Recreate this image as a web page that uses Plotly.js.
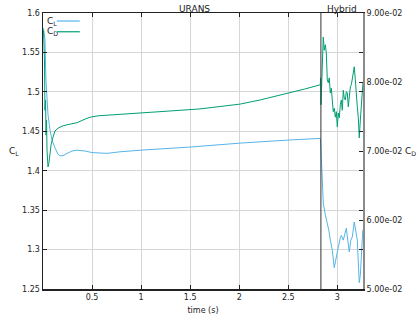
<!DOCTYPE html>
<html><head><meta charset="utf-8">
<script src="https://cdn.plot.ly/plotly-3.0.1.min.js"></script>
<style>html,body{margin:0;padding:0;background:#fff}#chart{width:419px;height:322px}</style>
</head><body><div id="chart"></div>
<script>
// ---- data ----
const seriesNames = ['C<sub>L</sub>', 'C<sub>D</sub>'];
const clTime = [0.005,0.02,0.03,0.041,0.051,0.071,0.092,0.122,0.153,0.173,0.204,0.245,0.296,0.347,0.429,0.5,0.582,0.653,0.786,0.99,1.5,2.01,2.52,2.827,
  2.837,2.847,2.857,2.878,2.898,2.913,2.929,2.949,2.969,2.99,3.01,3.031,3.041,3.061,3.082,3.092,3.107,3.122,3.138,3.153,3.173,3.189,3.204,3.214,3.224,3.235,3.245,3.26];
const clValues = [1.581,1.566,1.515,1.490,1.471,1.452,1.439,1.429,1.421,1.419,1.419,1.422,1.425,1.426,1.425,1.423,1.422,1.422,1.424,1.426,1.430,1.435,1.439,1.441,
  1.417,1.395,1.359,1.344,1.334,1.325,1.312,1.299,1.277,1.293,1.303,1.315,1.318,1.312,1.322,1.327,1.312,1.297,1.312,1.316,1.335,1.325,1.312,1.284,1.258,1.268,1.287,1.325];
const cdTime = [0.005,0.015,0.02,0.026,0.031,0.036,0.041,0.051,0.061,0.082,0.102,0.122,0.153,0.194,0.245,0.296,0.347,0.408,0.48,0.561,0.653,0.786,0.99,1.296,1.602,1.806,2.01,2.214,2.367,2.52,2.673,2.827,
  2.830,2.834,2.842,2.852,2.857,2.867,2.878,2.888,2.893,2.898,2.908,2.918,2.929,2.939,2.949,2.959,2.969,2.980,2.990,3.0,3.010,3.020,3.031,3.041,3.051,3.061,3.071,3.082,3.092,3.102,3.112,3.122,3.133,3.143,3.153,3.163,3.173,3.184,3.194,3.204,3.214,3.224,3.235,3.245,3.255,3.262];
const cdValues = [0.0875,0.0832,0.0759,0.0774,0.0723,0.0745,0.0701,0.0677,0.0683,0.0709,0.0720,0.0729,0.0733,0.0736,0.0738,0.0739,0.0741,0.0745,0.0749,0.0751,0.0752,0.0753,0.0755,0.0758,0.0761,0.0764,0.0768,0.0774,0.0779,0.0784,0.0790,0.0796,
  0.0806,0.0767,0.0817,0.0854,0.0865,0.0846,0.0854,0.0842,0.0817,0.0803,0.0799,0.0806,0.0784,0.0791,0.0774,0.0757,0.0762,0.0749,0.0757,0.0735,0.0755,0.0748,0.0767,0.0774,0.0759,0.0788,0.0777,0.0774,0.0786,0.0784,0.0764,0.0781,0.0793,0.0796,0.0803,0.0812,0.0822,0.0803,0.0778,0.0764,0.0749,0.0719,0.0745,0.0770,0.0788,0.0800];
const xTickVals = [0.5,1,1.5,2,2.5,3];
const xTickText = ['0.5','1','1.5','2','2.5','3'];
const yTickVals = [1.25,1.3,1.35,1.4,1.45,1.5,1.55,1.6];
const yTickText = ['1.25','1.3','1.35','1.4','1.45','1.5','1.55','1.6'];
const y2TickVals = [0.05,0.06,0.07,0.08,0.09];
const y2TickText = ['5.00e-02','6.00e-02','7.00e-02','8.00e-02','9.00e-02'];
const hybridStart = 2.833;
const phaseLabels = ['URANS','Hybrid'];
const xRange = [0, 3.262];

// ---- chart ----
const colCL = '#56b4e9', colCD = '#009e73';
const font = {family: 'DejaVu Sans', size: 9, color: '#222'};
const tickFont = {family: 'DejaVu Sans', size: 8, color: '#222'};
const traces = [
  {x: clTime, y: clValues, type: 'scatter', mode: 'lines', name: seriesNames[0], line: {color: colCL, width: 1}, yaxis: 'y'},
  {x: cdTime, y: cdValues, type: 'scatter', mode: 'lines', name: seriesNames[1], line: {color: colCD, width: 1}, yaxis: 'y2'}
];
const layout = {
  width: 419, height: 322,
  margin: {l: 43, r: 56, t: 13, b: 33},
  paper_bgcolor: '#fff', plot_bgcolor: '#fff',
  font: font, showlegend: false,
  xaxis: {range: xRange, tickvals: xTickVals, ticktext: xTickText, ticks: 'inside', ticklen: 4, tickcolor: '#222',
    tickfont: tickFont,
    showgrid: true, gridcolor: '#d6d6d6', gridwidth: 1, zeroline: false,
    showline: true, linecolor: '#222', linewidth: 1.5, mirror: 'ticks',
    title: {text: 'time (s)', font: tickFont, standoff: 6}},
  yaxis: {range: [1.25, 1.6], tickvals: yTickVals, ticktext: yTickText, ticks: 'inside', ticklen: 4, tickcolor: '#222',
    tickfont: tickFont,
    showgrid: true, gridcolor: '#d6d6d6', gridwidth: 1, zeroline: false,
    showline: true, linecolor: '#222', linewidth: 1.5, mirror: 'ticks'},
  yaxis2: {range: [0.05, 0.09], tickvals: y2TickVals, ticktext: y2TickText, overlaying: 'y', side: 'right',
    tickfont: tickFont,
    ticks: 'inside', ticklen: 4, tickcolor: '#222', showgrid: false, zeroline: false,
    showline: true, linecolor: '#8a8a8a', linewidth: 2},
  shapes: [
    {type: 'line', xref: 'x', yref: 'paper', x0: hybridStart, x1: hybridStart, y0: 0, y1: 1, line: {color: '#333', width: 1}},
    {type: 'line', xref: 'paper', yref: 'paper', x0: 0.043, x1: 0.115, y0: 0.971, y1: 0.971, line: {color: colCL, width: 1.2}},
    {type: 'line', xref: 'paper', yref: 'paper', x0: 0.043, x1: 0.115, y0: 0.932, y1: 0.932, line: {color: colCD, width: 1.2}}
  ],
  annotations: [
    {text: phaseLabels[0], xref: 'x', yref: 'paper', x: hybridStart / 2 + 0.13, y: 1, yanchor: 'bottom', showarrow: false, font: font, yshift: -3},
    {text: phaseLabels[1], xref: 'x', yref: 'paper', x: (hybridStart + xRange[1]) / 2, y: 1, yanchor: 'bottom', showarrow: false, font: font, yshift: -3},
    {text: seriesNames[0], xref: 'paper', yref: 'paper', x: 0.005, y: 0.971, xanchor: 'left', yanchor: 'middle', showarrow: false, font: font},
    {text: seriesNames[1], xref: 'paper', yref: 'paper', x: 0.005, y: 0.932, xanchor: 'left', yanchor: 'middle', showarrow: false, font: font},
    {text: seriesNames[0], xref: 'paper', yref: 'paper', x: -0.09, y: 0.5, xanchor: 'center', yanchor: 'middle', showarrow: false, font: font},
    {text: seriesNames[1], xref: 'paper', yref: 'paper', x: 1.126, y: 0.5, xanchor: 'left', yanchor: 'middle', showarrow: false, font: font}
  ]
};
Plotly.newPlot('chart', traces, layout, {staticPlot: true, displayModeBar: false});
</script></body></html>
